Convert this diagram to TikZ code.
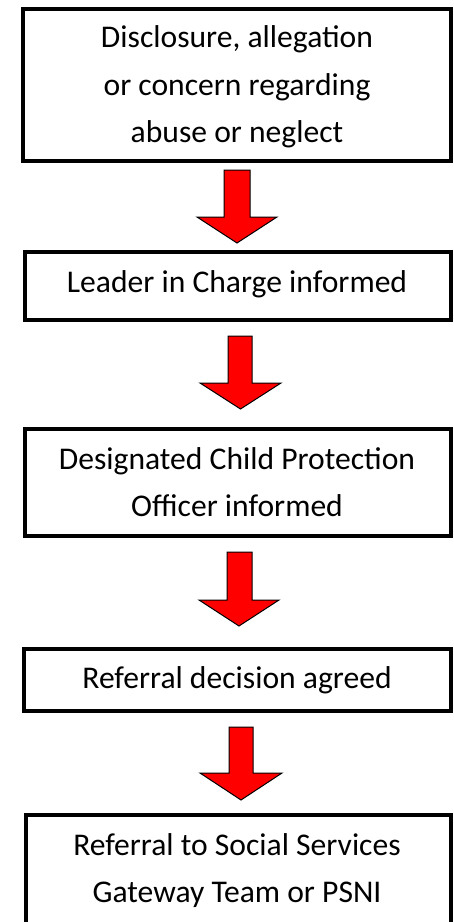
\documentclass[tikz,border=0pt]{standalone}
\usepackage{fontspec}
\setmainfont{Carlito}
\begin{document}
\begin{tikzpicture}[x=1pt,y=-1pt,
  box/.style={draw=black, line width=4pt, fill=white, inner sep=0pt, line join=miter},
  downarrow/.style={draw=black, line width=1pt, fill=red, line join=miter},
  txt/.style={anchor=base, inner sep=0pt, font=\fontsize{31.6}{38}\selectfont}]
\useasboundingbox (0,0) rectangle (454,922);
\clip (0,0) rectangle (454,922);
% boxes
\node[box, minimum width=428pt, minimum height=152pt] (b1) at (237,85) {};
\node[box, minimum width=426pt, minimum height=68pt] (b2) at (238,286) {};
\node[box, minimum width=426pt, minimum height=107pt] (b3) at (238,482.5) {};
\node[box, minimum width=427pt, minimum height=62pt] (b4) at (237.5,680) {};
\node[box, minimum width=425pt, minimum height=145pt] (b5) at (238.5,887.5) {};
% texts
\node[txt] (t1a) at (237,47) {Disclosure, allegation};
\node[txt] (t1b) at (237,95) {or concern regarding};
\node[txt] (t1c) at (237,142) {abuse or neglect};
\node[txt] (t2) at (237,292) {Leader in Charge informed};
\node[txt] (t3a) at (237,469) {Designated Child Protection};
\node[txt] (t3b) at (237,516) {Officer informed};
\node[txt] (t4) at (237,688) {Referral decision agreed};
\node[txt] (t5a) at (237,855) {Referral to Social Services};
\node[txt] (t5b) at (237,902) {Gateway Team or PSNI};
% arrows
\draw[downarrow] (224,170) -- (250,170) -- (250,217) -- (277,217) -- (237,243) -- (197,217) -- (224,217) -- cycle;
\draw[downarrow] (228,336) -- (252,336) -- (252,383) -- (281,383) -- (240.5,409) -- (200,383) -- (228,383) -- cycle;
\draw[downarrow] (227,552) -- (252,552) -- (252,600) -- (279,600) -- (239,626) -- (199,600) -- (227,600) -- cycle;
\draw[downarrow] (229,727) -- (253,727) -- (253,773) -- (282,773) -- (241,800) -- (200,773) -- (229,773) -- cycle;
\end{tikzpicture}
\end{document}
